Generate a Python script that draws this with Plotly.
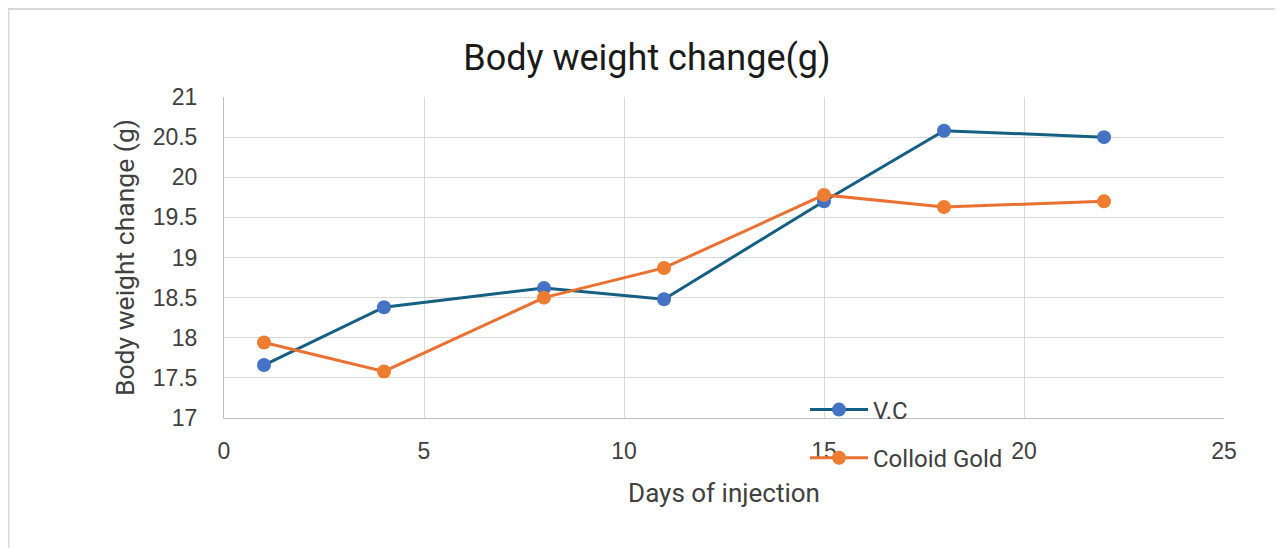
import plotly.graph_objects as go

days_vc = [1, 4, 8, 11, 15, 18, 22]
vc = [17.66, 18.38, 18.62, 18.48, 19.70, 20.58, 20.50]
days_gold = [1, 4, 8, 11, 15, 18, 22]
gold = [17.94, 17.58, 18.50, 18.87, 19.78, 19.63, 19.70]

title = "Body weight change(g)"
x_title = "Days of injection"
y_title = "Body weight change (g)"
x_ticks = [0, 5, 10, 15, 20, 25]
y_ticks = [17, 17.5, 18, 18.5, 19, 19.5, 20, 20.5, 21]

fig = go.Figure()
fig.add_trace(go.Scatter(
    x=days_vc, y=vc, name="V.C", mode="lines+markers", legendgroup="a",
    line=dict(color="#156082", width=3),
    marker=dict(color="#4472C4", size=14),
))
fig.add_trace(go.Scatter(
    x=days_gold, y=gold, name="Colloid Gold", mode="lines+markers", legendgroup="b",
    line=dict(color="#E97132", width=3),
    marker=dict(color="#ED7D31", size=14),
))

fig.update_layout(
    width=1283, height=548,
    margin=dict(l=216, r=67, t=89, b=138),
    paper_bgcolor="white", plot_bgcolor="white",
    font=dict(family="Liberation Sans, Arial, sans-serif", color="#404040"),
    title=dict(text=title, x=0.498, xanchor="center", y=0.91, yanchor="middle",
               font=dict(size=36, color="#1a1a1a", family="Roboto, sans-serif")),
    showlegend=True,
    legend=dict(x=0.581, y=0.095, xanchor="left", yanchor="top",
                bgcolor="rgba(0,0,0,0)", font=dict(size=24, color="#404040", family="Roboto, sans-serif"),
                tracegroupgap=14, traceorder="grouped", itemwidth=58),
    xaxis=dict(range=[0, 25], tickvals=x_ticks, showgrid=True, gridcolor="#D9D9D9",
               gridwidth=1, zeroline=False, showline=True, linecolor="#BFBFBF",
               ticks="", ticklabelstandoff=12, tickfont=dict(size=23, color="#404040"),
               title=dict(text=x_title, font=dict(size=26, color="#404040", family="Roboto, sans-serif"), standoff=21)),
    yaxis=dict(range=[17, 21], tickvals=y_ticks, ticktext=[f"{v:g}" for v in y_ticks],
               showgrid=True, gridcolor="#D9D9D9",
               gridwidth=1, zeroline=False, showline=True, linecolor="#BFBFBF",
               ticks="", ticklabelstandoff=21, tickfont=dict(size=23, color="#404040"),
               title=dict(text=y_title, font=dict(size=26.5, color="#404040", family="Roboto, sans-serif"), standoff=10)),
)
fig.add_shape(type="rect", xref="paper", yref="paper",
              x0=-0.2155, x1=1.3, y0=-0.7, y1=1.274,
              line=dict(color="#D9D9D9", width=2), fillcolor="rgba(0,0,0,0)", layer="below")
fig.write_html("out.html")
